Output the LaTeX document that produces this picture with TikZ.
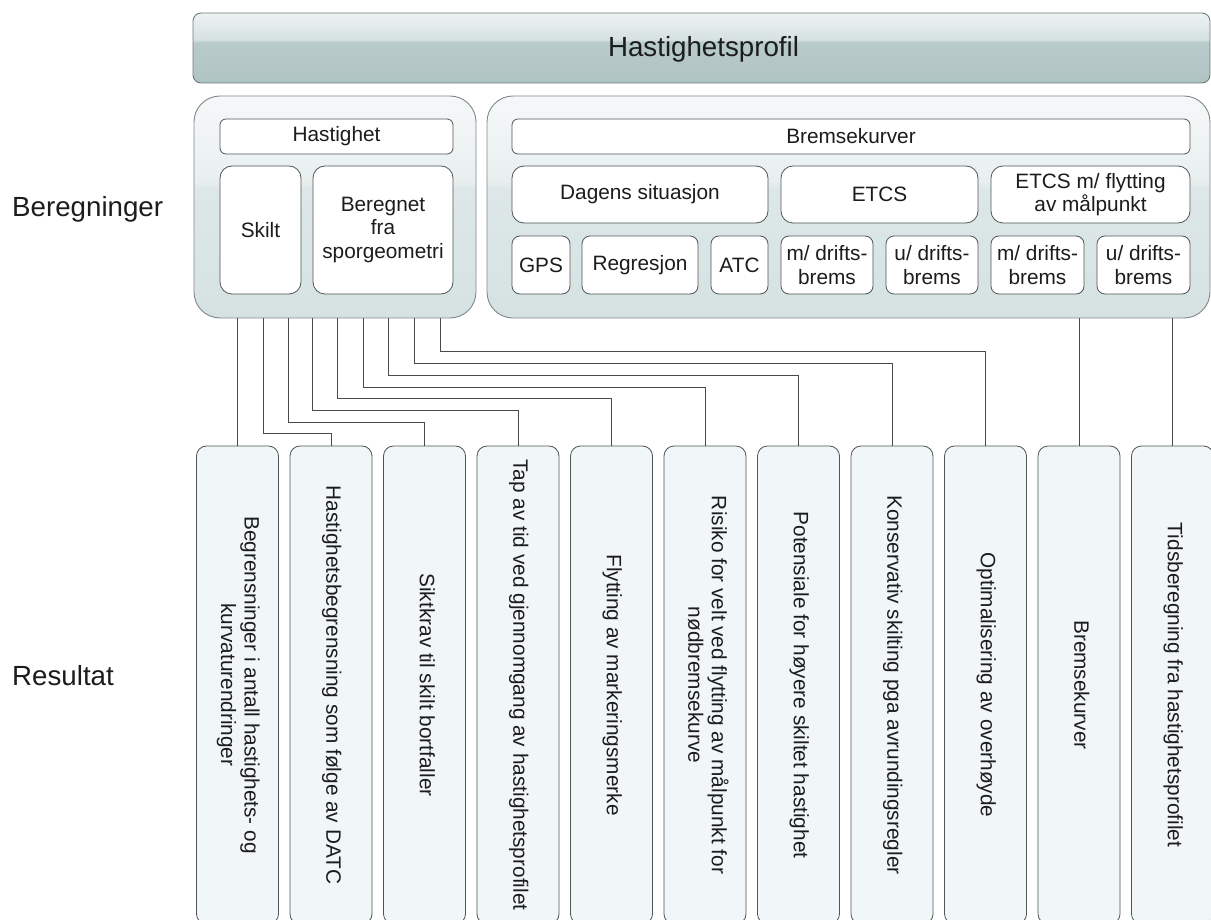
\documentclass[tikz,border=0pt]{standalone}
\usepackage{fontspec}
\setmainfont{Liberation Sans}
\usepackage{graphicx}
\definecolor{barT}{HTML}{EEF3F3}
\definecolor{barM2}{HTML}{D6E1E1}
\definecolor{barM1}{HTML}{B8CACA}
\definecolor{barB}{HTML}{B0C3C3}
\definecolor{grpT}{HTML}{F5F8F8}
\definecolor{grpM2}{HTML}{E9EFEF}
\definecolor{grpM1}{HTML}{DDE7E7}
\definecolor{grpB}{HTML}{D6E2E2}
\definecolor{barline}{HTML}{6F7B7B}
\definecolor{grpline}{HTML}{7E8888}
\definecolor{boxline}{HTML}{505555}
\definecolor{resfill}{HTML}{F1F6F9}
\definecolor{connline}{HTML}{4A4A4A}
\definecolor{txt}{HTML}{1C1C1C}
\pgfdeclareverticalshading{barshade}{100bp}{color(0bp)=(barB); color(25bp)=(barB); color(54bp)=(barM1); color(56bp)=(barM2); color(75bp)=(barT); color(100bp)=(barT)}
\pgfdeclareverticalshading{groupshade}{100bp}{color(0bp)=(grpB); color(25bp)=(grpB); color(54bp)=(grpM1); color(56bp)=(grpM2); color(75bp)=(grpT); color(100bp)=(grpT)}
\newcommand{\mytitlefont}{\fontsize{27.7}{32}\selectfont}
\newcommand{\myboxfont}{\fontsize{20.8}{23.5}\selectfont}
\newcommand{\vtext}[1]{\rotatebox{-90}{\begin{tabular}{@{}c@{}}#1\end{tabular}}}
\begin{document}
\begin{tikzpicture}[x=1pt,y=-1pt,
  bar/.style={shade, shading=barshade, draw=barline, line width=0.9pt, rounded corners=8pt, inner sep=0pt, font=\mytitlefont, text=txt},
  group/.style={shade, shading=groupshade, draw=grpline, line width=0.9pt, rounded corners=26pt, inner sep=0pt},
  ibox/.style={fill=white, draw=boxline, line width=0.8pt, rounded corners=6pt, inner sep=0pt, align=center, font=\myboxfont, text=txt},
  tallbox/.style={ibox, rounded corners=12pt},
  rbox/.style={fill=resfill, draw=boxline, line width=0.8pt, rounded corners=10pt, inner sep=0pt, minimum width=82pt, minimum height=478pt, font=\myboxfont, text=txt},
  conn/.style={draw=connline, line width=0.9pt},
  lbl/.style={font=\mytitlefont, text=txt, anchor=base west, inner sep=0pt}]
\useasboundingbox (0,0) rectangle (1211,920);
\clip (0,0) rectangle (1211,920);
% title bar
\node[bar, minimum width=1017pt, minimum height=70pt] (top) at (701.5,48) {};
\node[font=\mytitlefont, text=txt, anchor=base, inner sep=0pt] (toptxt) at (703.5,57) {Hastighetsprofil};
% side labels
\node[lbl] (beregn) at (12,217) {Beregninger};
\node[lbl] (result) at (12,685) {Resultat};
% groups
\node[group, minimum width=282pt, minimum height=222pt] (lg) at (335,207) {};
\node[group, minimum width=723pt, minimum height=222pt] (rg) at (848.5,207) {};
% left group content
\node[ibox, minimum width=233pt, minimum height=35pt] (hast) at (336.5,136.5) {Hastighet};
\node[tallbox, minimum width=81pt, minimum height=128pt] (skilt) at (260.5,230) {Skilt};
\node[tallbox, minimum width=140pt, minimum height=128pt] (bereg) at (383,230) {Beregnet\\fra\\sporgeometri};
% right group content
\node[ibox, minimum width=678pt, minimum height=35pt] (brems) at (851,136.5) {Bremsekurver};
\node[tallbox, minimum width=256pt, minimum height=57pt] (dagens) at (640,194.5) {Dagens situasjon};
\node[tallbox, minimum width=197pt, minimum height=57pt] (etcs) at (879.5,194.5) {ETCS};
\node[tallbox, minimum width=199pt, minimum height=57pt] (etcsm) at (1090.5,194.5) {ETCS m/ flytting\\av målpunkt};
\node[ibox, rounded corners=8pt, minimum width=58pt, minimum height=58pt] (gps) at (541,265) {GPS};
\node[ibox, rounded corners=8pt, minimum width=116pt, minimum height=58pt] (regr) at (640,265) {Regresjon};
\node[ibox, rounded corners=8pt, minimum width=57pt, minimum height=58pt] (atc) at (739.5,265) {ATC};
\node[ibox, rounded corners=8pt, minimum width=92pt, minimum height=58pt] (md1) at (827,265) {m/ drifts-\\brems};
\node[ibox, rounded corners=8pt, minimum width=92pt, minimum height=58pt] (ud1) at (932,265) {u/ drifts-\\brems};
\node[ibox, rounded corners=8pt, minimum width=93pt, minimum height=58pt] (md2) at (1037.5,265) {m/ drifts-\\brems};
\node[ibox, rounded corners=8pt, minimum width=93pt, minimum height=58pt] (ud2) at (1143.5,265) {u/ drifts-\\brems};
% result boxes
\node[rbox] (r1) at (237.5,685) {\vtext{Begrensninger i antall hastighets- og\\kurvaturendringer}};
\node[rbox] (r2) at (331,685) {\vtext{Hastighetsbegrensning som følge av DATC}};
\node[rbox] (r3) at (424.5,685) {\vtext{Siktkrav til skilt bortfaller}};
\node[rbox] (r4) at (518,685) {\vtext{Tap av tid ved gjennomgang av hastighetsprofilet}};
\node[rbox] (r5) at (611.5,685) {\vtext{Flytting av markeringsmerke}};
\node[rbox] (r6) at (705,685) {\vtext{Risiko for velt ved flytting av målpunkt for\\nødbremsekurve}};
\node[rbox] (r7) at (798.5,685) {\vtext{Potensiale for høyere skiltet hastighet}};
\node[rbox] (r8) at (892,685) {\vtext{Konservativ skilting pga avrundingsregler}};
\node[rbox] (r9) at (985.5,685) {\vtext{Optimalisering av overhøyde}};
\node[rbox] (r10) at (1079,685) {\vtext{Bremsekurver}};
\node[rbox] (r11) at (1172.5,685) {\vtext{Tidsberegning fra hastighetsprofilet}};
% connector start points on the left group
\coordinate (s2) at (263,318);
\coordinate (s3) at (288,318);
\coordinate (s4) at (312,318);
\coordinate (s5) at (337,318);
\coordinate (s6) at (363,318);
\coordinate (s7) at (388,318);
\coordinate (s8) at (414,318);
\coordinate (s9) at (440,318);
% connectors
\draw[conn] (lg.south -| r1.north) -- (r1.north);
\draw[conn] (s2) |- ([yshift=12pt]r2.north) -- (r2.north);
\draw[conn] (s3) |- ([yshift=23pt]r3.north) -- (r3.north);
\draw[conn] (s4) |- ([yshift=35pt]r4.north) -- (r4.north);
\draw[conn] (s5) |- ([yshift=47pt]r5.north) -- (r5.north);
\draw[conn] (s6) |- ([yshift=58pt]r6.north) -- (r6.north);
\draw[conn] (s7) |- ([yshift=70pt]r7.north) -- (r7.north);
\draw[conn] (s8) |- ([yshift=82pt]r8.north) -- (r8.north);
\draw[conn] (s9) |- ([yshift=94pt]r9.north) -- (r9.north);
\draw[conn] (rg.south -| r10.north) -- (r10.north);
\draw[conn] (rg.south -| r11.north) -- (r11.north);
\end{tikzpicture}
\end{document}
